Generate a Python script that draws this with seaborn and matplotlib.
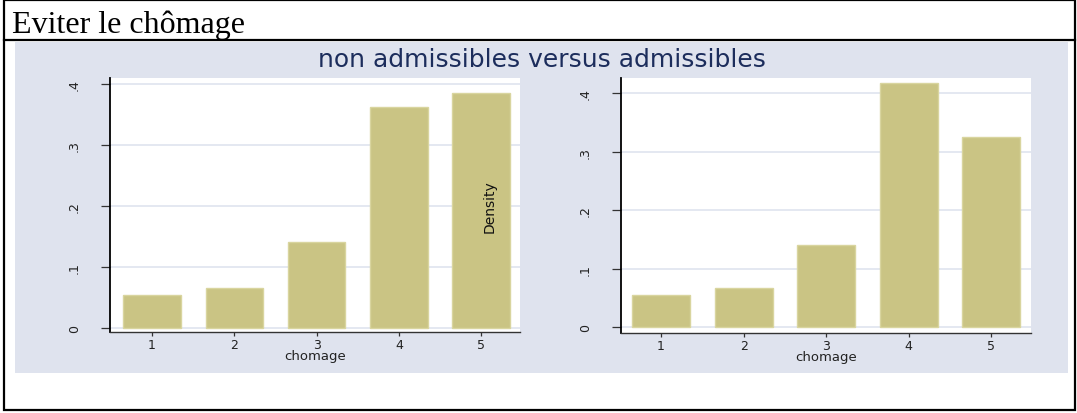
import matplotlib
matplotlib.use("Agg")
import matplotlib.pyplot as plt
import pandas as pd
import seaborn as sns
from matplotlib.patches import Rectangle
from matplotlib.lines import Line2D

# --- data -------------------------------------------------------------
chomage = [1, 2, 3, 4, 5]
density_non_admissibles = [0.054, 0.066, 0.141, 0.362, 0.385]
density_admissibles = [0.055, 0.067, 0.140, 0.418, 0.325]
y_ticks = [0, 0.1, 0.2, 0.3, 0.4]
y_tick_labels = ["0", ".1", ".2", ".3", ".4"]
header_text = "Eviter le chômage"
title_text = "non admissibles versus admissibles"
x_label = "chomage"
y_label = "Density"

# --- style ------------------------------------------------------------
W, H = 1077, 414
BAR = "#cac484"
BAR_EDGE = "#d9d59f"
PANEL = "#dfe3ee"
GRID = "#e2e6f0"
NAVY = "#1c2d5c"

fig = plt.figure(figsize=(W / 100, H / 100), dpi=100)


def fx(px):
    return px / W


def fy(py):
    return 1 - py / H


# table cell frame and header row
fig.add_artist(Rectangle((fx(4), fy(411)), fx(1075) - fx(4), fy(1) - fy(411),
                         transform=fig.transFigure, fill=False,
                         edgecolor="black", linewidth=1.6, zorder=0))
fig.add_artist(Line2D([fx(4), fx(1075)], [fy(41), fy(41)],
                      transform=fig.transFigure, color="black",
                      linewidth=1.6, zorder=0))
fig.text(fx(12), fy(33), header_text, family="Liberation Serif",
         fontsize=23, ha="left", va="baseline", color="black")

# graph region background
fig.add_artist(Rectangle((fx(15), fy(374)), fx(1068) - fx(15), fy(43) - fy(374),
                         transform=fig.transFigure, facecolor=PANEL,
                         edgecolor="none", zorder=0))

fig.text(fx(542), fy(60), title_text, ha="center", va="center",
         fontsize=18, color=NAVY, family="DejaVu Sans")

panels = [
    (density_non_admissibles, 110, 520, 333, (0.49, 5.47), (-0.0066, 0.4098)),
    (density_admissibles, 621, 1031, 334, (0.515, 5.48), (-0.0103, 0.4264)),
]

axes = []
for values, left, right, bottom, xlim, ylim in panels:
    ax = fig.add_axes([fx(left), fy(bottom), fx(right) - fx(left), fy(79) - fy(bottom)])
    df = pd.DataFrame({"chomage": chomage, "density": values})
    sns.barplot(data=df, x="chomage", y="density", native_scale=True,
                width=0.7, color=BAR, saturation=1, edgecolor=BAR_EDGE,
                linewidth=1.0, errorbar=None, ax=ax)
    ax.set_facecolor("white")
    ax.set_xlim(*xlim)
    ax.set_ylim(*ylim)
    ax.set_xticks(chomage)
    ax.set_xticklabels([str(c) for c in chomage])
    ax.set_yticks(y_ticks)
    ax.set_yticklabels(y_tick_labels)
    ax.set_axisbelow(True)
    ax.yaxis.grid(True, color=GRID, linewidth=1.3)
    ax.xaxis.grid(False)
    for side in ("top", "right"):
        ax.spines[side].set_visible(False)
    ax.spines["left"].set_color("black")
    ax.spines["left"].set_linewidth(1.3)
    ax.spines["bottom"].set_color("#333333")
    ax.spines["bottom"].set_linewidth(1.0)
    ax.tick_params(axis="y", direction="out", length=6.5, width=0.9,
                   color="#333333", labelsize=9, labelrotation=90, pad=19,
                   labelcolor="#222222")
    for lbl in ax.get_yticklabels():
        lbl.set_va("center")
        lbl.set_ha("center")
    ax.tick_params(axis="x", direction="out", length=3, width=0.9,
                   color="#333333", labelsize=9, pad=1.0, labelcolor="#222222")
    ax.set_xlabel(x_label, fontsize=9.5, labelpad=-1, color="#222222")
    ax.set_ylabel("")
    axes.append(ax)

# y-axis title of the second graph, drawn where the combined layout put it
ax2 = axes[1]
ax2.set_ylabel(y_label, fontsize=10, family="DejaVu Sans",
               rotation=90, va="center", ha="center", color="#111111")
ax2.yaxis.set_label_coords((490 - 621) / 410, 0.5)

fig.savefig("out.png", dpi=100)
